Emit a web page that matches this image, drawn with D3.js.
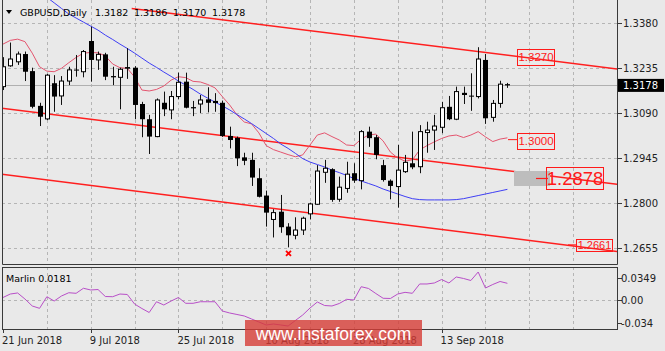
<!DOCTYPE html>
<html>
<head>
<meta charset="utf-8">
<script src="https://cdn.jsdelivr.net/npm/d3@7"></script>
<style>
  body { margin: 0; background: #e9e9e9; }
  svg { display: block; font-family: "DejaVu Sans", sans-serif; }
</style>
</head>
<body>
<div id="chart"></div>
<script>

// ---- data ----
const barDates = [
  "21 Jun","22 Jun","25 Jun","26 Jun","27 Jun","28 Jun","29 Jun",
  "2 Jul","3 Jul","4 Jul","5 Jul","6 Jul","9 Jul","10 Jul","11 Jul","12 Jul","13 Jul",
  "16 Jul","17 Jul","18 Jul","19 Jul","20 Jul","23 Jul","24 Jul","25 Jul","26 Jul","27 Jul",
  "30 Jul","31 Jul","1 Aug","2 Aug","3 Aug","6 Aug","7 Aug","8 Aug","9 Aug","10 Aug",
  "13 Aug","14 Aug","15 Aug","16 Aug","17 Aug","20 Aug","21 Aug","22 Aug","23 Aug","24 Aug",
  "27 Aug","28 Aug","29 Aug","30 Aug","31 Aug","3 Sep","4 Sep","5 Sep","6 Sep","7 Sep",
  "10 Sep","11 Sep","12 Sep","13 Sep","14 Sep","17 Sep","18 Sep","19 Sep","20 Sep","21 Sep",
  "24 Sep","25 Sep","26 Sep"
];

const openVals = [
  1.3174,1.3241,1.3254,1.3279,1.3224,1.3112,1.3070,1.3185,1.3144,1.3192,
  1.3229,1.3222,1.3321,1.3260,1.3278,1.3208,1.3204,1.3237,1.3235,1.3118,
  1.3069,1.3013,1.3122,1.3099,1.3142,1.3190,1.3108,1.3118,1.3133,1.3128,
  1.3122,1.3015,1.3009,1.2946,1.2938,1.2879,1.2823,1.2746,1.2771,1.2723,
  1.2695,1.2712,1.2764,1.2795,1.2898,1.2908,1.2811,1.2846,1.2895,1.2871,
  1.3029,1.3011,1.2921,1.2871,1.2852,1.2900,1.2927,1.2916,1.3026,1.3034,
  1.3043,1.3109,1.3069,1.3154,1.3145,1.3142,1.3260,1.3075,1.3120,1.3182
];
const highVals = [
  1.3269,1.3316,1.3287,1.3287,1.3235,1.3122,1.3215,1.3211,1.3208,1.3238,
  1.3276,1.3292,1.3367,1.3287,1.3283,1.3238,1.3235,1.3298,1.3240,1.3125,
  1.3083,1.3136,1.3158,1.3160,1.3219,1.3219,1.3128,1.3147,1.3172,1.3153,
  1.3129,1.3045,1.3013,1.2961,1.2961,1.2911,1.2839,1.2779,1.2825,1.2734,
  1.2753,1.2755,1.2800,1.2921,1.2938,1.2911,1.2884,1.2932,1.2927,1.3034,
  1.3045,1.3018,1.2938,1.2875,1.2986,1.2954,1.3029,1.3050,1.3061,1.3083,
  1.3125,1.3144,1.3174,1.3174,1.3217,1.3301,1.3279,1.3131,1.3193,1.3186
];
const lowVals = [
  1.3163,1.3238,1.3244,1.3192,1.3104,1.3047,1.3066,1.3093,1.3115,1.3179,
  1.3206,1.3204,1.3190,1.3228,1.3195,1.3179,1.3101,1.3199,1.3069,1.3011,
  1.2957,1.3011,1.3079,1.3069,1.3133,1.3104,1.3079,1.3089,1.3091,1.3093,
  1.3012,1.2975,1.2918,1.2921,1.2854,1.2817,1.2723,1.2688,1.2703,1.2656,
  1.2682,1.2696,1.2746,1.2793,1.2864,1.2803,1.2803,1.2832,1.2864,1.2843,
  1.2980,1.2940,1.2868,1.2811,1.2784,1.2896,1.2908,1.2895,1.2961,1.2970,
  1.3024,1.3066,1.3066,1.3118,1.3096,1.3136,1.3054,1.3061,1.3106,1.3170
];
const closeVals = [
  1.3238,1.3263,1.3279,1.3222,1.3109,1.3077,1.3211,1.3142,1.3192,1.3228,
  1.3226,1.3287,1.3260,1.3278,1.3206,1.3204,1.3230,1.3232,1.3115,1.3069,
  1.3013,1.3131,1.3101,1.3142,1.3188,1.3106,1.3104,1.3131,1.3122,1.3121,
  1.3015,1.3002,1.2943,1.2935,1.2881,1.2819,1.2768,1.2768,1.2721,1.2695,
  1.2712,1.2750,1.2796,1.2902,1.2911,1.2809,1.2850,1.2892,1.2871,1.3029,
  1.3008,1.2954,1.2873,1.2854,1.2905,1.2930,1.2914,1.3029,1.3034,1.3047,
  1.3106,1.3069,1.3158,1.3147,1.3142,1.3263,1.3072,1.3120,1.3182,1.3178
];

// slow moving average (blue), starts above the visible range
const blueMA = [
  null,null,null,null,null,null,1.3462,1.3444,1.3426,1.3408,
  1.3395,1.3382,1.3369,1.3356,1.3340,1.3326,1.3311,1.3297,1.3282,1.3266,
  1.3250,1.3236,1.3221,1.3207,1.3192,1.3179,1.3165,1.3150,1.3137,1.3124,
  1.3112,1.3099,1.3084,1.3070,1.3055,1.3039,1.3023,1.3007,1.2989,1.2975,
  1.2959,1.2942,1.2931,1.2923,1.2915,1.2905,1.2897,1.2888,1.2878,1.2870,
  1.2862,1.2854,1.2844,1.2836,1.2828,1.2820,1.2813,1.2810,1.2809,1.2809,
  1.2809,1.2809,1.2810,1.2813,1.2818,1.2823,1.2828,1.2833,1.2838,1.2843
];
// fast line (pink)
const pinkMA = [
  1.3311,1.3323,1.3327,1.3319,1.3282,1.3238,1.3224,1.3222,1.3233,1.3251,
  1.3268,1.3282,1.3284,1.3283,1.3273,1.3247,1.3235,1.3233,1.3205,1.3163,
  1.3160,1.3165,1.3176,1.3195,1.3206,1.3203,1.3191,1.3189,1.3181,1.3170,
  1.3142,1.3115,1.3083,1.3060,1.3054,1.3025,1.2984,1.2971,1.2963,1.2955,
  1.2948,1.2954,1.2986,1.3018,1.3025,1.3013,1.3002,1.2986,1.2984,1.3005,
  1.3018,1.3021,1.2999,1.2963,1.2944,1.2934,1.2938,1.2970,1.2984,1.2996,
  1.3007,1.3015,1.3018,1.3010,1.3018,1.3029,1.3012,1.2997,1.3005,1.3009
];
// Marlin oscillator
const marlinVals = [
  0.0046,0.0099,0.0115,0.0023,-0.0084,-0.0120,0.0058,-0.0008,0.0069,0.0119,
  0.0110,0.0187,0.0161,0.0168,0.0061,0.0058,0.0099,0.0092,-0.0054,-0.0123,
  -0.0184,-0.0019,-0.0069,-0.0008,0.0046,-0.0043,-0.0043,-0.0019,-0.0019,-0.0019,
  -0.0161,-0.0191,-0.0214,-0.0237,-0.0283,-0.0329,-0.0375,-0.0360,-0.0375,-0.0391,
  -0.0306,-0.0222,-0.0115,-0.0023,-0.0077,-0.0084,-0.0046,0.0018,0.0008,0.0211,
  0.0184,0.0107,0.0034,0.0031,0.0099,0.0125,0.0110,0.0253,0.0253,0.0268,
  0.0321,0.0268,0.0360,0.0337,0.0306,0.0436,0.0191,0.0245,0.0291,0.0263
];

const priceTicks = [1.3380, 1.3235, 1.3090, 1.2945, 1.2800, 1.2655];
const marlinTicks = [0.0349, 0, -0.034];
const marlinTickLabels = ["0.0349", "0.00", "-0.034"];
const dateTickIdx = [0, 12, 24, 36, 48, 60];
const dateTickLabels = ["21 Jun 2018", "9 Jul 2018", "25 Jul 2018", "10 Aug 2018", "28 Aug 2018", "13 Sep 2018"];

// channel lines: [bar index, price] anchors
const trendFrom = [[17.6, 1.3426], [0, 1.3104], [0, 1.2891]];
const trendTo   = [[69, 1.3275], [69, 1.2903], [69, 1.2687]];
const priceMarks = [1.3270, 1.3000, 1.2878, 1.2661];
const lowMarkIdx = 39;

const lastPrice = 1.3178;
const symbolTitle = "GBPUSD,Daily";
const titleVals = ["1.3182", "1.3186", "1.3170", "1.3178"];
const marlinTitle = "Marlin 0.0181";


// ---- drawing ----
const W = 665, H = 351;
const main = {left: 2, right: 617, top: 0, bottom: 264};
const sub = {top: 267, bottom: 329};

const svg = d3.select("#chart").append("svg")
  .attr("width", W)
  .attr("height", H);

svg.append("rect").attr("width", W).attr("height", H).attr("fill", "#e9e9e9");

// scales
const x = d3.scaleLinear().domain([0, barDates.length - 1]).range([3, 507.4]);
const y = d3.scaleLinear().domain([1.2655, 1.3380]).range([247.7, 22.7]);
const ym = d3.scaleLinear().domain([-0.034, 0.0349]).range([322.7, 277.7]);

const defs = svg.append("defs");
defs.append("clipPath").attr("id", "clipMain").append("rect")
  .attr("x", main.left).attr("y", main.top)
  .attr("width", main.right - main.left).attr("height", main.bottom - main.top);
defs.append("clipPath").attr("id", "clipSub").append("rect")
  .attr("x", main.left).attr("y", sub.top)
  .attr("width", main.right - main.left).attr("height", sub.bottom - sub.top);

const gMain = svg.append("g").attr("clip-path", "url(#clipMain)");
const gSub = svg.append("g").attr("clip-path", "url(#clipSub)");

const gridColor = "#b5b5b5";
const crisp = v => Math.round(v) + 0.5;

// vertical grid, every 6 bars
const gridIdx = d3.range(6, 85, 6);
gMain.selectAll(".vgrid").data(gridIdx).enter().append("line")
  .attr("x1", d => crisp(x(d))).attr("x2", d => crisp(x(d)))
  .attr("y1", main.top).attr("y2", main.bottom)
  .attr("stroke", gridColor).attr("stroke-dasharray", "3,3");
gSub.selectAll(".vgrid").data(gridIdx).enter().append("line")
  .attr("x1", d => crisp(x(d))).attr("x2", d => crisp(x(d)))
  .attr("y1", sub.top).attr("y2", sub.bottom)
  .attr("stroke", gridColor).attr("stroke-dasharray", "3,3");

// horizontal grid
gMain.selectAll(".hgrid").data(priceTicks).enter().append("line")
  .attr("x1", main.left).attr("x2", main.right)
  .attr("y1", d => crisp(y(d))).attr("y2", d => crisp(y(d)))
  .attr("stroke", gridColor).attr("stroke-dasharray", "3,3");
gSub.append("line")
  .attr("x1", main.left).attr("x2", main.right)
  .attr("y1", crisp(ym(0))).attr("y2", crisp(ym(0)))
  .attr("stroke", gridColor).attr("stroke-dasharray", "3,3");

// bid line
gMain.append("line")
  .attr("x1", main.left).attr("x2", main.right)
  .attr("y1", crisp(y(lastPrice))).attr("y2", crisp(y(lastPrice)))
  .attr("stroke", "#b0b0b0");

// channel lines
const xEndIdx = x.invert(main.right + 2);
const xStartIdx = x.invert(main.left - 2);
trendFrom.forEach((a, k) => {
  let b = trendTo[k];
  let slope = (b[1] - a[1]) / (b[0] - a[0]);
  let i0 = k === 0 ? a[0] : xStartIdx;
  let p0 = a[1] + slope * (i0 - a[0]);
  let p1 = a[1] + slope * (xEndIdx - a[0]);
  gMain.append("line")
    .attr("x1", x(i0)).attr("y1", y(p0))
    .attr("x2", x(xEndIdx)).attr("y2", y(p1))
    .attr("stroke", "#ff1f1f").attr("stroke-width", 1.5);
});

// moving averages
const maLine = d3.line()
  .defined(d => d != null)
  .x((d, i) => x(i))
  .y(d => y(d));

gMain.append("path").attr("d", maLine(pinkMA))
  .attr("fill", "none").attr("stroke", "#e4556f").attr("stroke-width", 1);
gMain.append("path").attr("d", maLine(blueMA))
  .attr("fill", "none").attr("stroke", "#3f3ff5").attr("stroke-width", 1);

// candles
const bars = barDates.map((d, i) => ({
  i: i, o: openVals[i], h: highVals[i], l: lowVals[i], c: closeVals[i]
}));

const candle = gMain.selectAll(".candle").data(bars).enter().append("g")
  .attr("class", "candle");

candle.append("line")
  .attr("x1", d => Math.round(x(d.i)) + 0.5)
  .attr("x2", d => Math.round(x(d.i)) + 0.5)
  .attr("y1", d => y(d.h))
  .attr("y2", d => y(d.l))
  .attr("stroke", "#111");

candle.append("rect")
  .attr("x", d => d.c >= d.o ? Math.round(x(d.i)) - 1.5 : Math.round(x(d.i)) - 2)
  .attr("width", d => d.c >= d.o ? 4 : 5)
  .attr("y", d => y(Math.max(d.o, d.c)))
  .attr("height", d => Math.max(1, Math.abs(y(d.o) - y(d.c))))
  .attr("fill", d => d.c >= d.o ? "#fff" : "#000")
  .attr("stroke", d => d.c >= d.o ? "#000" : "none");

// red cross under the low
const crossX = Math.round(x(lowMarkIdx)) + 0.5;
const crossY = y(lowVals[lowMarkIdx]) + 6;
gMain.append("path")
  .attr("d", `M${crossX - 2.5},${crossY - 2.5}L${crossX + 2.5},${crossY + 2.5}M${crossX + 2.5},${crossY - 2.5}L${crossX - 2.5},${crossY + 2.5}`)
  .attr("stroke", "#f00").attr("stroke-width", 1.8);

// Marlin line
const marlinLine = d3.line().x((d, i) => x(i)).y(d => ym(d));
gSub.append("path").attr("d", marlinLine(marlinVals))
  .attr("fill", "none").attr("stroke", "#b84fc8").attr("stroke-width", 1);

// price mark labels
const markRed = "#ff1a1a";
function priceBox(p, bx, bw, bh, size) {
  let yc = y(p);
  svg.append("rect")
    .attr("x", bx + 0.5).attr("y", Math.round(yc - bh / 2) + 0.5)
    .attr("width", bw).attr("height", bh)
    .attr("fill", "none").attr("stroke", markRed);
  svg.append("text")
    .attr("x", bx + bw / 2 + 0.5).attr("y", yc + size * 0.36)
    .attr("text-anchor", "middle")
    .style("font-family", "'Liberation Sans', Arial, sans-serif")
    .style("font-size", size + "px")
    .attr("fill", markRed)
    .text(d3.format(".4f")(p));
  return yc;
}

priceBox(priceMarks[0], 517, 37, 16, 11.5);

let y1300 = y(priceMarks[1]);
svg.append("line").attr("x1", 508).attr("x2", 517).attr("y1", y1300 - 1).attr("y2", y1300 - 1)
  .attr("stroke", markRed);
priceBox(priceMarks[1], 517, 37, 16, 11.5);

let y2878 = y(priceMarks[2]);
svg.append("rect").attr("x", 514).attr("y", y2878 - 7.5).attr("width", 36).attr("height", 15)
  .attr("fill", "#bdbdbd");
svg.append("line").attr("x1", 536).attr("x2", 548).attr("y1", y2878).attr("y2", y2878)
  .attr("stroke", markRed).attr("stroke-width", 1.2);
priceBox(priceMarks[2], 546, 57, 22, 18.5);

let y2661 = y(priceMarks[3]);
svg.append("line").attr("x1", 568).attr("x2", 576).attr("y1", y2661 - 1).attr("y2", y2661 - 1)
  .attr("stroke", markRed);
svg.append("rect")
  .attr("x", 576.5).attr("y", Math.round(y2661 - 7) + 0.5)
  .attr("width", 36).attr("height", 12)
  .attr("fill", "none").attr("stroke", markRed);
svg.append("text")
  .attr("x", 594.5).attr("y", y2661 + 3)
  .attr("text-anchor", "middle")
  .style("font-family", "'Liberation Sans', Arial, sans-serif")
  .style("font-size", "11px")
  .attr("fill", markRed)
  .text(d3.format(".4f")(priceMarks[3]));

// frames
const frameColor = "#3a3a3a";
svg.append("path")
  .attr("d", `M${main.left + 0.5},${main.top}V${main.bottom + 0.5}H${main.right + 0.5}V${main.top}`)
  .attr("fill", "none").attr("stroke", frameColor);
svg.append("rect")
  .attr("x", main.left + 0.5).attr("y", sub.top + 0.5)
  .attr("width", main.right - main.left).attr("height", sub.bottom - sub.top)
  .attr("fill", "none").attr("stroke", frameColor);

// right price axis
const axisText = "#222";
svg.selectAll(".ptick").data(priceTicks).enter().append("line")
  .attr("x1", main.right + 1).attr("x2", main.right + 5)
  .attr("y1", d => crisp(y(d))).attr("y2", d => crisp(y(d)))
  .attr("stroke", frameColor);
svg.selectAll(".plabel").data(priceTicks).enter().append("text")
  .attr("x", 623).attr("y", d => y(d) + 3.8)
  .style("font-size", "10px").attr("fill", axisText)
  .text(d => d3.format(".4f")(d));

// last price tag
svg.append("rect")
  .attr("x", 618).attr("y", y(lastPrice) - 6.5).attr("width", 46).attr("height", 13)
  .attr("fill", "#000");
svg.append("text")
  .attr("x", 623).attr("y", y(lastPrice) + 3.8)
  .style("font-size", "10px").attr("fill", "#fff")
  .text(d3.format(".4f")(lastPrice));

// Marlin axis
svg.selectAll(".mtick").data(marlinTicks).enter().append("line")
  .attr("x1", main.right + 1).attr("x2", main.right + 5)
  .attr("y1", d => crisp(ym(d))).attr("y2", d => crisp(ym(d)))
  .attr("stroke", frameColor);
svg.selectAll(".mlabel").data(marlinTicks).enter().append("text")
  .attr("x", 621).attr("y", d => ym(d) + 3.8)
  .style("font-size", "10px").attr("fill", axisText)
  .text((d, i) => marlinTickLabels[i]);

// date axis
svg.selectAll(".dtick").data(dateTickIdx).enter().append("line")
  .attr("x1", d => crisp(x(d))).attr("x2", d => crisp(x(d)))
  .attr("y1", sub.bottom + 1).attr("y2", sub.bottom + 4)
  .attr("stroke", frameColor);
svg.selectAll(".dlabel").data(dateTickIdx).enter().append("text")
  .attr("x", d => x(d) - 1).attr("y", 344)
  .style("font-size", "10px").attr("fill", axisText)
  .text((d, i) => dateTickLabels[i]);

// title
svg.append("path").attr("d", "M6,10L12,10L9,14Z").attr("fill", "#000");
svg.append("text").attr("x", 20).attr("y", 16)
  .style("font-size", "9.5px").attr("fill", "#000").text(symbolTitle);
svg.selectAll(".tval").data(titleVals).enter().append("text")
  .attr("x", (d, i) => 95 + i * 39).attr("y", 16)
  .style("font-size", "9.5px").attr("fill", "#000")
  .text(d => d);

svg.append("text").attr("x", 6).attr("y", 281.5)
  .style("font-size", "9.5px").attr("fill", "#000").text(marlinTitle);

// watermark
svg.append("rect").attr("x", 245).attr("y", 320).attr("width", 177).attr("height", 26)
  .attr("fill", "#d63c36").attr("opacity", 0.8);
svg.append("text").attr("x", 333.5).attr("y", 339.5)
  .attr("text-anchor", "middle")
  .style("font-family", "'Liberation Sans', Arial, sans-serif")
  .style("font-size", "17.5px").attr("fill", "#fff")
  .text("www.instaforex.com");

</script>
</body>
</html>
